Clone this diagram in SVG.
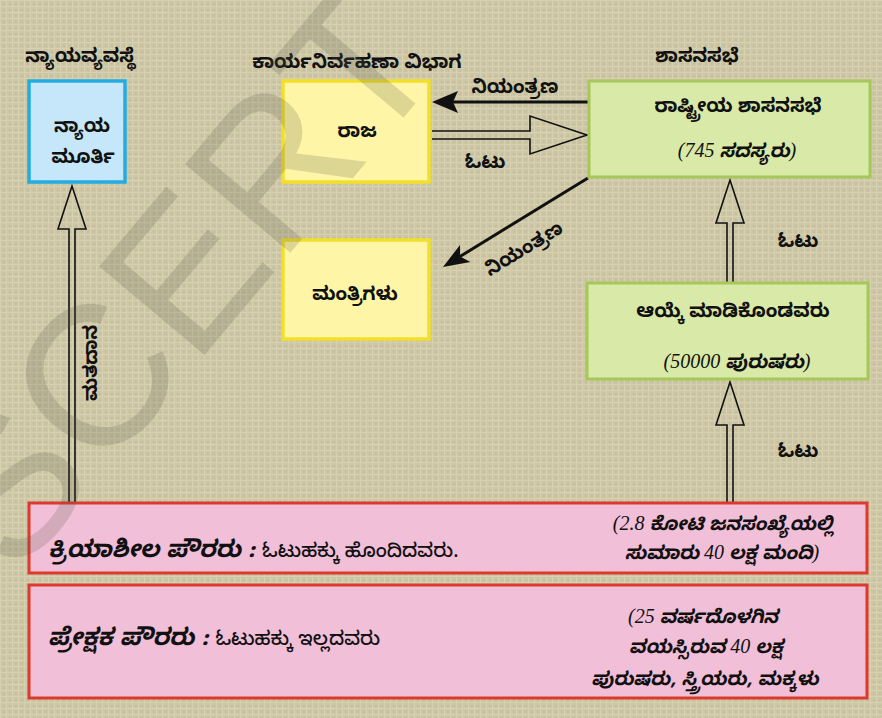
<svg xmlns="http://www.w3.org/2000/svg" width="882" height="718" viewBox="0 0 882 718">
<style>
.kn{font-family:"Noto Sans Kannada","Noto Sans","Liberation Sans",sans-serif;fill:#111;}
.t{font-size:19px;font-weight:700;text-anchor:middle;}
.it{font-family:"Liberation Serif","Noto Serif Kannada","Noto Sans Kannada",serif;font-style:italic;font-size:20px;fill:#111;text-anchor:middle;}
.ik{font-family:"Noto Sans Kannada","Noto Sans",sans-serif;font-style:italic;font-weight:700;font-size:19px;}
.big{font-size:24px;font-style:italic;font-weight:700;}
.sm{font-size:19.5px;font-weight:500;font-style:normal;}
.blue{fill:#c6e7f9;stroke:#22ace0;stroke-width:3.5;}
.yel{fill:#fff5a6;stroke:#f1df2a;stroke-width:3.5;}
.grn{fill:#d9e9a7;stroke:#a5c85a;stroke-width:3;}
.pink{fill:#f2bfd8;stroke:#dc3a2c;stroke-width:3;}
.hollow{fill:none;stroke:#111;stroke-width:1.6;stroke-linejoin:miter;}
.solid{stroke:#111;stroke-width:3;fill:none;}
.head{fill:#111;}
</style>
<defs>
<pattern id="tex" width="6" height="6" patternUnits="userSpaceOnUse">
<rect width="6" height="6" fill="#cdc6a4"/>
<path d="M0 0.5H6M0.5 0V6" stroke="#dcd6b8" stroke-width="1" opacity="0.7"/>
<rect x="3" y="3" width="2" height="2" fill="#c1ba98" opacity="0.6"/>
</pattern>
</defs>
<rect width="882" height="718" fill="url(#tex)"/>

<g id="connectors">
<path class="hollow" d="M69 502V229H58L72 186L86 229H75V502"/>
<path class="hollow" d="M727 283V223H716L730 180L744 223H733V283"/>
<path class="hollow" d="M727 502V425H716L730 382L744 425H733V502"/>
<path class="hollow" d="M432 131H530V116L587 135L530 154V139H432"/>
<line class="solid" x1="588" y1="102" x2="452" y2="102"/>
<polygon class="head" points="432,102 458,91 453,102 458,113"/>
<line class="solid" x1="588" y1="178" x2="460" y2="256.5"/>
<polygon class="head" points="443,267 460,244.9 460.1,256.5 470.4,261.9"/>
<text class="kn t" x="515" y="93">ನಿಯಂತ್ರಣ</text>
<text class="kn t" x="485" y="168">ಓಟು</text>
<text class="kn t" transform="translate(527,254) rotate(-31)">ನಿಯಂತ್ರಣ</text>
<text class="kn t" x="798" y="247">ಓಟು</text>
<text class="kn t" x="798" y="457">ಓಟು</text>
<text class="kn t" font-size="21" transform="translate(97,363) rotate(-90)">ಮತದಾನ</text>
</g>

<g id="judiciary">
<text class="kn t" x="80" y="62">ನ್ಯಾಯವ್ಯವಸ್ಥೆ</text>
<rect class="blue" x="29" y="81" width="96" height="101"/>
<text class="kn t" x="82" y="132">ನ್ಯಾಯ</text>
<text class="kn t" x="83" y="163">ಮೂರ್ತಿ</text>
</g>

<g id="king">
<text class="kn t" x="357" y="68">ಕಾರ್ಯನಿರ್ವಹಣಾ ವಿಭಾಗ</text>
<rect class="yel" x="283" y="81" width="146" height="101"/>
<text class="kn t" x="357" y="137">ರಾಜ</text>
</g>

<g id="ministers">
<rect class="yel" x="283" y="240" width="146" height="99"/>
<text class="kn t" x="355" y="300">ಮಂತ್ರಿಗಳು</text>
</g>

<g id="parliament">
<text class="kn t" x="697" y="62">ಶಾಸನಸಭೆ</text>
<rect class="grn" x="589" y="81" width="281" height="96"/>
<text class="kn t" x="738" y="112">ರಾಷ್ಟ್ರೀಯ ಶಾಸನಸಭೆ</text>
<text class="it" x="737" y="157">(745  <tspan class="ik">ಸದಸ್ಯರು</tspan>)</text>
</g>

<g id="electors">
<rect class="grn" x="587" y="283" width="281" height="96"/>
<text class="kn t" x="733" y="317">ಆಯ್ಕೆ ಮಾಡಿಕೊಂಡವರು</text>
<text class="it" x="737" y="368">(50000  <tspan class="ik">ಪುರುಷರು</tspan>)</text>
</g>

<g id="active-citizens">
<rect class="pink" x="29" y="503" width="838" height="70"/>
<text class="kn big" x="48" y="557">ಕ್ರಿಯಾಶೀಲ ಪೌರರು : <tspan class="sm">ಓಟುಹಕ್ಕು ಹೊಂದಿದವರು.</tspan></text>
<text class="it" x="723" y="530">(2.8 <tspan class="ik">ಕೋಟಿ ಜನಸಂಖ್ಯೆಯಲ್ಲಿ</tspan></text>
<text class="it" x="722" y="559"><tspan class="ik">ಸುಮಾರು</tspan> 40 <tspan class="ik">ಲಕ್ಷ ಮಂದಿ</tspan>)</text>
</g>

<g id="passive-citizens">
<rect class="pink" x="29" y="585" width="838" height="113"/>
<text class="kn big" x="48" y="645">ಪ್ರೇಕ್ಷಕ ಪೌರರು : <tspan class="sm">ಓಟುಹಕ್ಕು ಇಲ್ಲದವರು</tspan></text>
<text class="it" x="703" y="623">(25 <tspan class="ik">ವರ್ಷದೊಳಗಿನ</tspan></text>
<text class="it" x="706" y="653"><tspan class="ik">ವಯಸ್ಸಿರುವ</tspan>  40 <tspan class="ik">ಲಕ್ಷ</tspan></text>
<text class="it" x="705" y="685"><tspan class="ik">ಪುರುಷರು, ಸ್ತ್ರಿಯರು, ಮಕ್ಕಳು</tspan></text>
</g>

<text transform="translate(232,322) rotate(-50)" font-family="Liberation Sans, sans-serif" font-size="200" text-anchor="middle" fill="#5a5848" opacity="0.2">SCERT</text>
</svg>
